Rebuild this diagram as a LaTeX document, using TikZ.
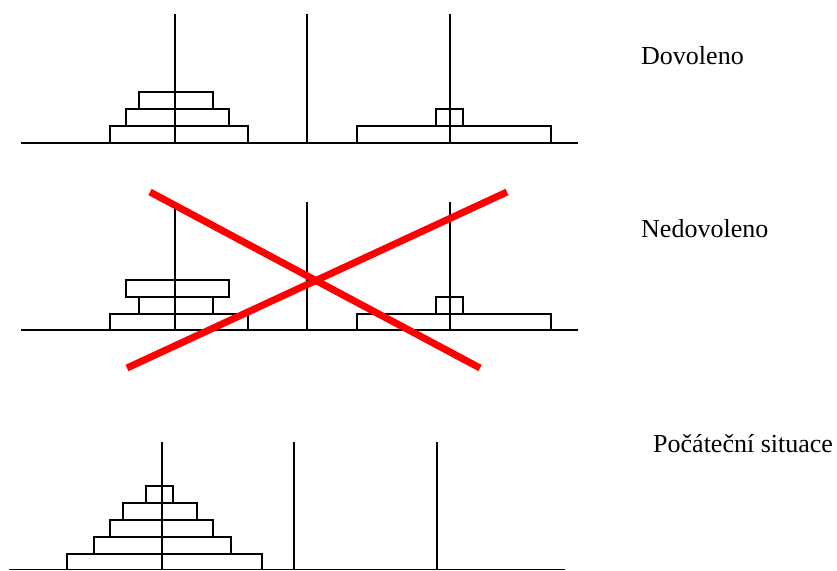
\documentclass[tikz,border=0pt]{standalone}
\usepackage{fontspec}
\setmainfont{Liberation Serif}
\begin{document}
\begin{tikzpicture}[x=1pt,y=-1pt,
  rod/.style={draw=black,line width=1.9pt},
  ground/.style={draw=black,line width=1.9pt},
  disk/.style={draw=black,line width=1.9pt},
  cross/.style={draw=red,line width=7pt},
  label/.style={anchor=base west,inner sep=0pt,font=\fontsize{26}{30}\selectfont}]
\useasboundingbox[fill=white] (0,0) rectangle (837,570);

% --- allowed move ---
\draw[ground] (21,143) -- (578,143);
\draw[disk] (110,126) rectangle (248,143);
\draw[disk] (126,109) rectangle (229,126);
\draw[disk] (139,92) rectangle (213,109);
\draw[disk] (357,126) rectangle (551,143);
\draw[disk] (436,109) rectangle (463,126);
\draw[rod] (175,14) -- (175,143);
\draw[rod] (307,14) -- (307,143);
\draw[rod] (450,14) -- (450,143);
\node[label] (ok) at (641,64) {Dovoleno};

% --- forbidden move ---
\draw[ground] (21,330) -- (578,330);
\draw[disk] (110,314) rectangle (248,330);
\draw[disk] (139,297) rectangle (213,314);
\draw[disk] (126,280) rectangle (229,297);
\draw[disk] (357,314) rectangle (551,330);
\draw[disk] (436,297) rectangle (463,314);
\draw[rod] (175,202) -- (175,330);
\draw[rod] (307,202) -- (307,330);
\draw[rod] (450,202) -- (450,330);
\draw[cross] (150,192) -- (480,368);
\draw[cross] (127,368) -- (507,192);
\node[label] (bad) at (641,237.5) {Nedovoleno};

% --- starting position ---
\draw[ground] (9,569.5) -- (565,569.5);
\draw[disk] (67,554) rectangle (262,569.5);
\draw[disk] (94,537) rectangle (231,554);
\draw[disk] (110,520) rectangle (213,537);
\draw[disk] (123,503) rectangle (197,520);
\draw[disk] (146,486) rectangle (173,503);
\draw[rod] (162,442) -- (162,569.5);
\draw[rod] (294,442) -- (294,569.5);
\draw[rod] (437,442) -- (437,569.5);
\node[label] (start) at (653,452) {Počáteční situace};
\end{tikzpicture}
\end{document}
